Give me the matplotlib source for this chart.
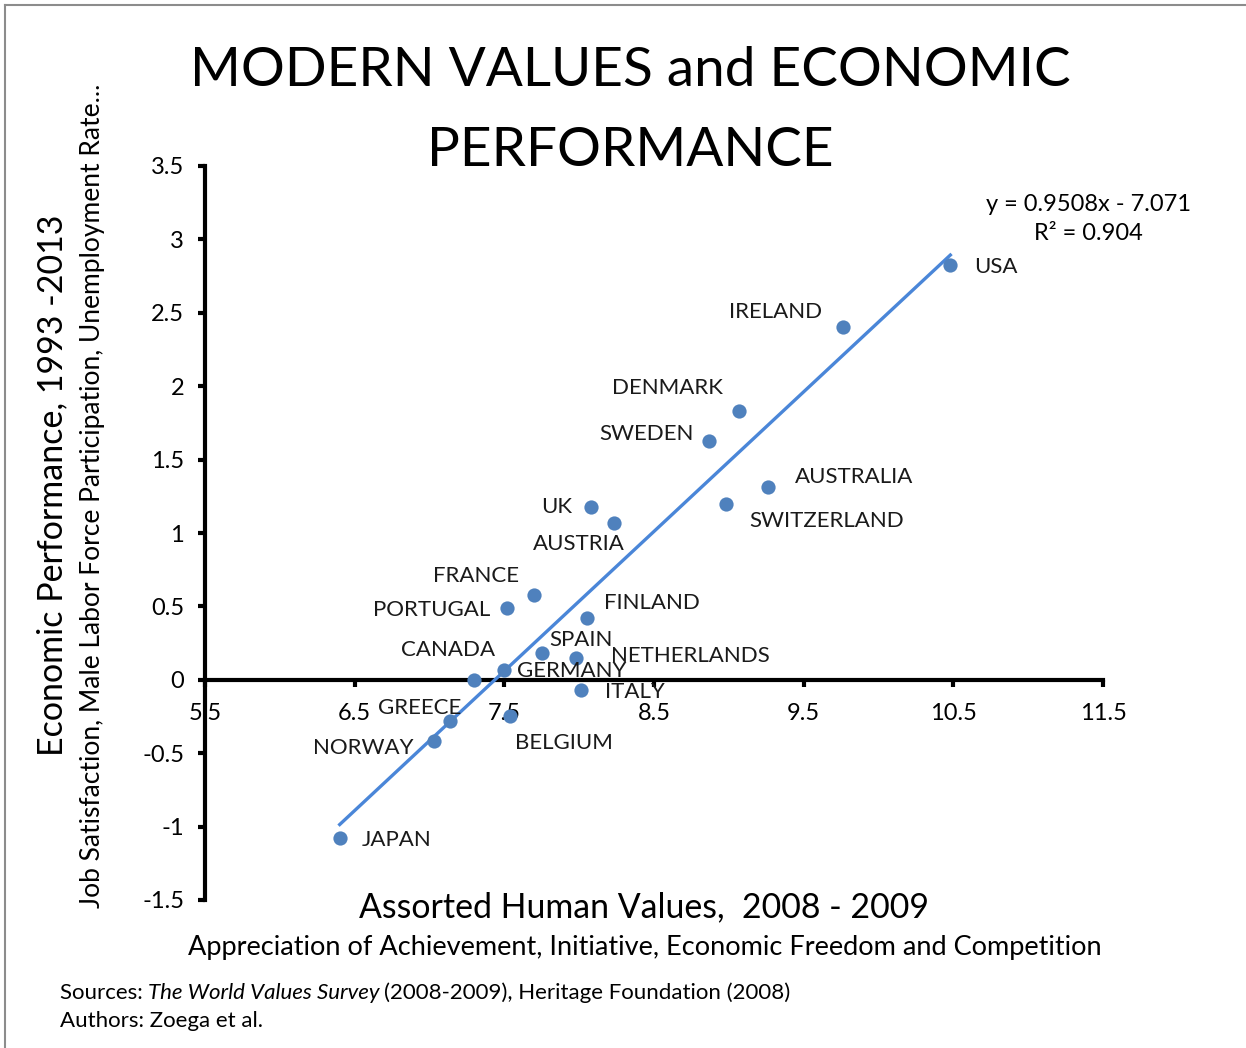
import numpy as np
import matplotlib
matplotlib.use('Agg')
import matplotlib.pyplot as plt
from matplotlib.lines import Line2D

plt.rcParams['font.family'] = ['Lato', 'DejaVu Sans']

# data
countries = ['USA', 'IRELAND', 'DENMARK', 'SWEDEN', 'AUSTRALIA', 'SWITZERLAND',
             'UK', 'AUSTRIA', 'FRANCE', 'PORTUGAL', 'FINLAND', 'SPAIN',
             'NETHERLANDS', 'GERMANY', 'CANADA', 'ITALY', 'GREECE', 'BELGIUM',
             'NORWAY', 'JAPAN']
values_x = [10.48, 9.76, 9.07, 8.87, 9.26, 8.98, 8.08, 8.23, 7.70, 7.52,
            8.05, 7.75, 7.98, 7.50, 7.30, 8.01, 7.14, 7.54, 7.03, 6.40]
performance_y = [2.825, 2.40, 1.83, 1.63, 1.31, 1.20, 1.18, 1.07, 0.58, 0.49,
                 0.42, 0.18, 0.15, 0.07, 0.0, -0.07, -0.28, -0.245, -0.415, -1.075]
slope = 0.9508
intercept = -7.071
r_squared = 0.904

# label placement (ha, dx px, dy px)
label_pos = {
    'USA': ('left', 24, -2), 'IRELAND': ('right', -20, 15),
    'DENMARK': ('right', -16, 23), 'SWEDEN': ('right', -16, 7),
    'AUSTRALIA': ('left', 27, 10), 'SWITZERLAND': ('left', 23, -17),
    'UK': ('right', -19, 0), 'AUSTRIA': ('center', -35, -21),
    'FRANCE': ('center', -58, 19), 'PORTUGAL': ('right', -17, -2),
    'FINLAND': ('left', 17, 15), 'SPAIN': ('left', 8, 13),
    'NETHERLANDS': ('left', 35, 2), 'GERMANY': ('left', 13, -1),
    'CANADA': ('right', 21, 30), 'ITALY': ('left', 24, -2),
    'GREECE': ('right', 11, 13), 'BELGIUM': ('left', 5, -27),
    'NORWAY': ('right', -20, -7), 'JAPAN': ('left', 22, -2),
}

W, H = 1246, 1048
fig = plt.figure(figsize=(W / 100, H / 100), dpi=100)
ax = fig.add_axes([205 / W, 1 - 900 / H, 898 / W, 734 / H])

blue = '#4F81BD'
ax.scatter(values_x, performance_y, s=105, color=blue, zorder=4, linewidths=0)
xs = np.array([min(values_x), max(values_x)])
ax.plot(xs, slope * xs + intercept, color='#4A86D8', lw=2.4, zorder=3)

for name, x, y in zip(countries, values_x, performance_y):
    ha, dx, dy = label_pos[name]
    ax.annotate(name, (x, y), xytext=(dx, dy), textcoords='offset pixels',
                ha=ha, va='center', fontsize=16, color='#1a1a1a', zorder=5)

ax.set_xlim(5.5, 11.5)
ax.set_ylim(-1.5, 3.5)
ax.set_xticks(np.arange(5.5, 11.6, 1.0))
ax.set_yticks(np.arange(-1.5, 3.6, 0.5))
ax.set_xticklabels(['5.5', '6.5', '7.5', '8.5', '9.5', '10.5', '11.5'])
ax.set_yticklabels(['-1.5', '-1', '-0.5', '0', '0.5', '1', '1.5', '2', '2.5', '3', '3.5'])

ax.spines['top'].set_visible(False)
ax.spines['right'].set_visible(False)
ax.spines['bottom'].set_position(('data', 0))
for s in ('left', 'bottom'):
    ax.spines[s].set_linewidth(3)
ax.tick_params(axis='both', width=3, length=5, labelsize=17, colors='black')
ax.tick_params(axis='x', pad=12)
ax.tick_params(axis='y', pad=10)
ax.patch.set_visible(False)

# titles and axis labels
fig.text(630 / W, 1 - 70 / H, 'MODERN VALUES and ECONOMIC', ha='center', va='center', fontsize=39.5)
fig.text(630 / W, 1 - 150 / H, 'PERFORMANCE', ha='center', va='center', fontsize=39.5)
fig.text(52 / W, 1 - 485 / H, 'Economic Performance, 1993 -2013', rotation=90,
         ha='center', va='center', fontsize=24.5)
fig.text(93 / W, 1 - 496 / H,
         'Job Satisfaction, Male Labor Force Participation, Unemployment Rate...',
         rotation=90, ha='center', va='center', fontsize=19)
fig.text(644 / W, 1 - 907 / H, 'Assorted Human Values,  2008 - 2009',
         ha='center', va='center', fontsize=24.4)
fig.text(645 / W, 1 - 947 / H,
         'Appreciation of Achievement, Initiative, Economic Freedom and Competition',
         ha='center', va='center', fontsize=19.5)
fig.text(1088 / W, 1 - 219 / H, f'y = {slope}x - {abs(intercept)}\nR² = {r_squared}',
         ha='center', va='center', fontsize=17, linespacing=1.5)

# sources
fs_src = 16
t1 = fig.text(60 / W, 1 - 993 / H, 'Sources: ', ha='left', va='center', fontsize=fs_src)
fig.canvas.draw()
r = fig.canvas.get_renderer()
bb = t1.get_window_extent(r)
t2 = fig.text(bb.x1 / W, 1 - 993 / H, 'The World Values Survey', style='italic',
              ha='left', va='center', fontsize=fs_src)
bb2 = t2.get_window_extent(r)
fig.text(bb2.x1 / W + 4 / W, 1 - 993 / H, '(2008-2009), Heritage Foundation (2008)',
         ha='left', va='center', fontsize=fs_src)
fig.text(60 / W, 1 - 1021 / H, 'Authors: Zoega et al.', ha='left', va='center', fontsize=fs_src)

# frame
fig.add_artist(Line2D([5 / W, 1], [1 - 5 / H, 1 - 5 / H], color='#8c8c8c', lw=1.5))
fig.add_artist(Line2D([5 / W, 5 / W], [0, 1 - 5 / H], color='#8c8c8c', lw=1.5))

fig.savefig('out.png', dpi=100)
